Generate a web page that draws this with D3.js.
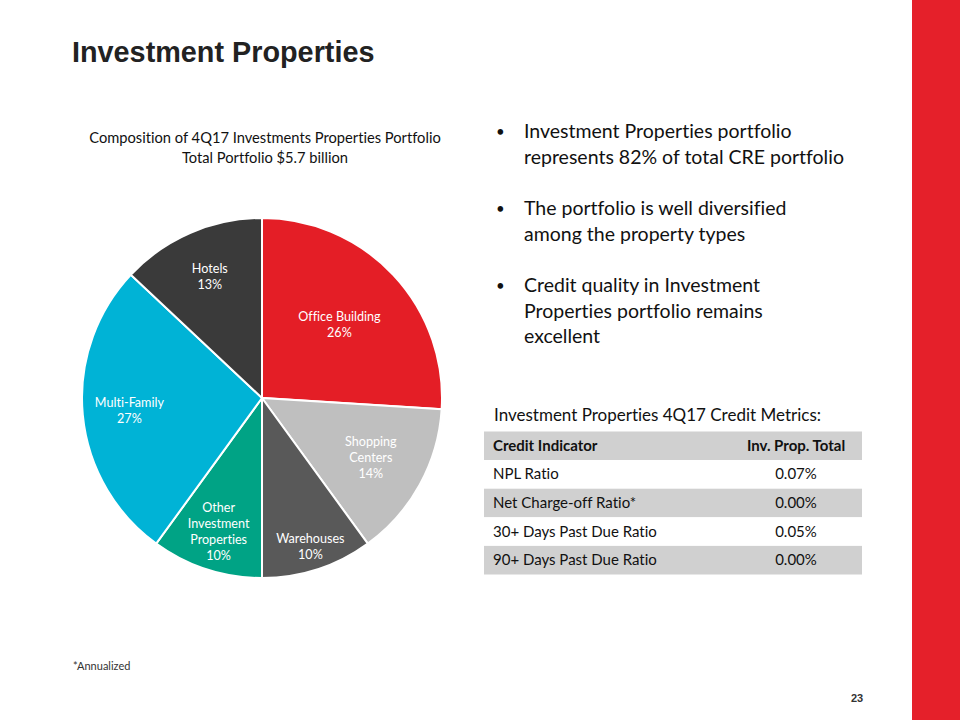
<!DOCTYPE html>
<html>
<head>
<meta charset="utf-8">
<script src="https://cdn.jsdelivr.net/npm/d3@7"></script>
<style>
  html, body { margin: 0; padding: 0; background: #fff; }
  svg { display: block; }
  svg text { font-variant-ligatures: none; font-feature-settings: "liga" 0, "dlig" 0, "clig" 0; }
</style>
</head>
<body>
<svg id="slide" width="960" height="720"></svg>
<script>
// ---------- DATA ----------
const categories = ["Office Building", "Shopping Centers", "Warehouses", "Other Investment Properties", "Multi-Family", "Hotels"];
const shares = [26, 14, 10, 10, 27, 13];
const labelLines = [["Office Building"], ["Shopping", "Centers"], ["Warehouses"], ["Other", "Investment", "Properties"], ["Multi-Family"], ["Hotels"]];

const chartTitle = ["Composition of 4Q17 Investments Properties Portfolio", "Total Portfolio $5.7 billion"];
const bullets = [
  ["Investment Properties portfolio", "represents 82% of total CRE portfolio"],
  ["The portfolio is well diversified", "among the property types"],
  ["Credit quality in Investment", "Properties portfolio remains", "excellent"]
];
const tableTitle = "Investment Properties 4Q17 Credit Metrics:";
const tableHeader = ["Credit Indicator", "Inv. Prop. Total"];
const indicators = ["NPL Ratio", "Net Charge-off Ratio*", "30+ Days Past Due Ratio", "90+ Days Past Due Ratio"];
const indicatorValues = ["0.07%", "0.00%", "0.05%", "0.00%"];

// ---------- STYLE / LAYOUT ----------
const sliceColors = ["#E41E26", "#BFBFBF", "#595959", "#00A385", "#00B3D6", "#3A3A3A"];
const labelRadiusFrac = [0.59, 0.69, 0.87, 0.78, 0.74, 0.73];
const bodyFont = "Lato, 'Open Sans', sans-serif";
const headFont = "'Liberation Sans', Arial, sans-serif";

const svg = d3.select("#slide");

// red side bar
svg.append("rect").attr("x", 912).attr("y", 0).attr("width", 48).attr("height", 720).attr("fill", "#E5202A");

// title
svg.append("text").attr("x", 72).attr("y", 62)
  .attr("font-family", headFont).attr("font-weight", "bold").attr("font-size", 28.8)
  .attr("fill", "#222").text("Investment Properties");

// chart title
svg.append("g").selectAll("text").data(chartTitle).join("text")
  .attr("x", 265).attr("y", (d, i) => 143 + i * 20)
  .attr("text-anchor", "middle")
  .attr("font-family", bodyFont).attr("font-size", 14.7).attr("fill", "#111")
  .text(d => d);

// pie
const cx = 262, cy = 398, R = 180;
const pie = d3.pie().sort(null).value(d => d.value).startAngle(0).endAngle(2 * Math.PI);
const arcs = pie(categories.map((c, i) => ({ cat: c, value: shares[i], i })));
const arc = d3.arc().innerRadius(0).outerRadius(R);
const g = svg.append("g").attr("transform", `translate(${cx},${cy})`);
g.selectAll("path").data(arcs).join("path")
  .attr("d", arc)
  .attr("fill", d => sliceColors[d.data.i])
  .attr("stroke", "#fff").attr("stroke-width", 2);

const lineH = 16;
arcs.forEach(d => {
  const i = d.data.i;
  const r = R * labelRadiusFrac[i];
  const la = d3.arc().innerRadius(r).outerRadius(r);
  const [lx, ly] = la.centroid(d);
  const lines = labelLines[i].concat([d.data.value + "%"]);
  const t = g.append("text")
    .attr("text-anchor", "middle")
    .attr("font-family", bodyFont).attr("font-size", 12.6).attr("fill", "#fff");
  const top = ly - (lines.length - 1) * lineH / 2 + 4;
  lines.forEach((s, k) => {
    t.append("tspan").attr("x", lx).attr("y", top + k * lineH).text(s);
  });
});

// bullets
let by = 138;
const bulletG = svg.append("g").attr("font-family", bodyFont).attr("fill", "#111");
bullets.forEach((b, bi) => {
  bulletG.append("text").attr("x", 496).attr("y", by - 1).attr("font-size", 15).text("•");
  b.forEach((line, li) => {
    bulletG.append("text").attr("x", 524).attr("y", by + li * 25.5).attr("font-size", 19.5).text(line);
  });
  by += b.length * 25.5 + 26;
});

// table title
svg.append("text").attr("x", 494).attr("y", 421)
  .attr("font-family", bodyFont).attr("font-size", 17).attr("fill", "#111").text(tableTitle);

const tx = 484, tw = 378, rowH = 28.6, ty = 431.5;
const rows = [tableHeader].concat(indicators.map((d, i) => [d, indicatorValues[i]]));
const rowScale = d3.scaleBand().domain(d3.range(rows.length)).range([ty, ty + rowH * rows.length]);
const tg = svg.append("g").attr("font-family", bodyFont).attr("font-size", 15).attr("fill", "#111");
rows.forEach((r, i) => {
  const y = rowScale(i);
  tg.append("rect").attr("x", tx).attr("y", y).attr("width", tw).attr("height", rowScale.bandwidth())
    .attr("fill", i % 2 === 0 ? "#D0D0D0" : "#FFFFFF");
  tg.append("text").attr("x", 493).attr("y", y + rowH / 2 + 5)
    .attr("font-weight", i === 0 ? "bold" : "normal").text(r[0]);
  tg.append("text").attr("x", 796).attr("y", y + rowH / 2 + 5).attr("text-anchor", "middle")
    .attr("font-weight", i === 0 ? "bold" : "normal").text(r[1]);
});

// footnote
svg.append("text").attr("x", 73).attr("y", 670)
  .attr("font-family", bodyFont).attr("font-size", 11).attr("fill", "#333").text("*Annualized");

// page number
svg.append("text").attr("x", 857).attr("y", 702).attr("text-anchor", "middle")
  .attr("font-family", headFont).attr("font-weight", "bold").attr("font-size", 11).attr("fill", "#333").text("23");
</script>
</body>
</html>
